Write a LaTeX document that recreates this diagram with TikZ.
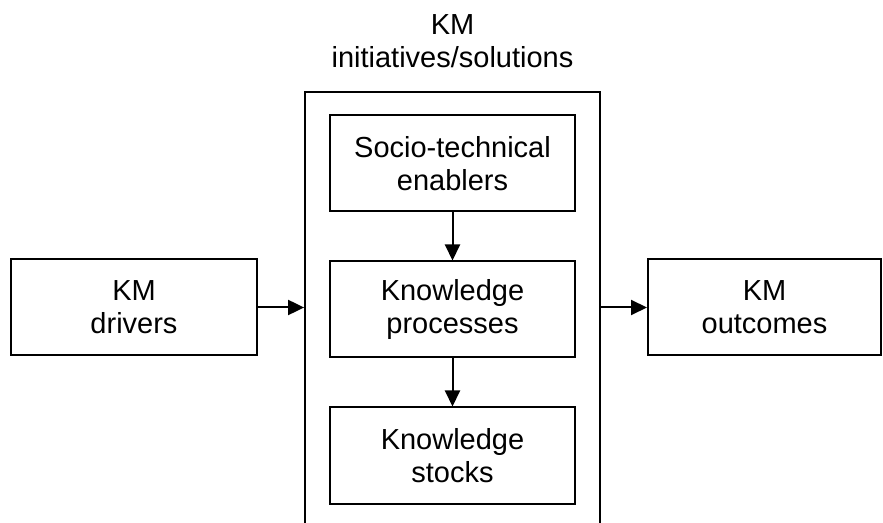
\documentclass[tikz,border=0pt]{standalone}
\usepackage{fontspec}
\setmainfont{Liberation Sans}
\usetikzlibrary{arrows.meta,positioning}
\tikzset
{
    stagebox/.style = {rectangle, draw=black, line width=1pt, align=center, minimum width=122.5pt, minimum height=48pt, inner sep=2pt},
    sidebox/.style  = {stagebox, minimum width=123pt},
    frame/.style    = {rectangle, draw=black, line width=0.9pt, minimum width=147.5pt, minimum height=224pt, inner sep=0pt},
    flow/.style     = {line width=1pt, -{Triangle[length=8pt,width=7.5pt]}}
}
\begin{document}
\begin{tikzpicture}
	[x=0.5pt, y=-0.5pt, font=\fontsize{14.5pt}{16.5pt}\selectfont]
	\useasboundingbox (0,0) rectangle (883,523);
	% the frame runs past the bottom edge, so only three sides show
	\node[frame] (frame) at (452.5,316) {};
	\node[align=center] (title) at (452.5,41) {KM\\initiatives/solutions};
	\node[stagebox] (enablers) at (452.5,163.5) {Socio-technical\\enablers};
	\node[stagebox, below=24pt of enablers] (processes) {Knowledge\\processes};
	\node[stagebox, below=24pt of processes] (stocks) {Knowledge\\stocks};
	\node[sidebox] (drivers) at (134,307.5) {KM\\drivers};
	\node[stagebox, minimum width=116.5pt] (outcomes) at (764.5,307.5) {KM\\outcomes};
	\draw[flow] (enablers) -- (processes);
	\draw[flow] (processes) -- (stocks);
	\draw[flow] (drivers.east) -- (drivers.east -| frame.west);
	\draw[flow] (frame.east |- outcomes.west) -- (outcomes.west);
\end{tikzpicture}
\end{document}
